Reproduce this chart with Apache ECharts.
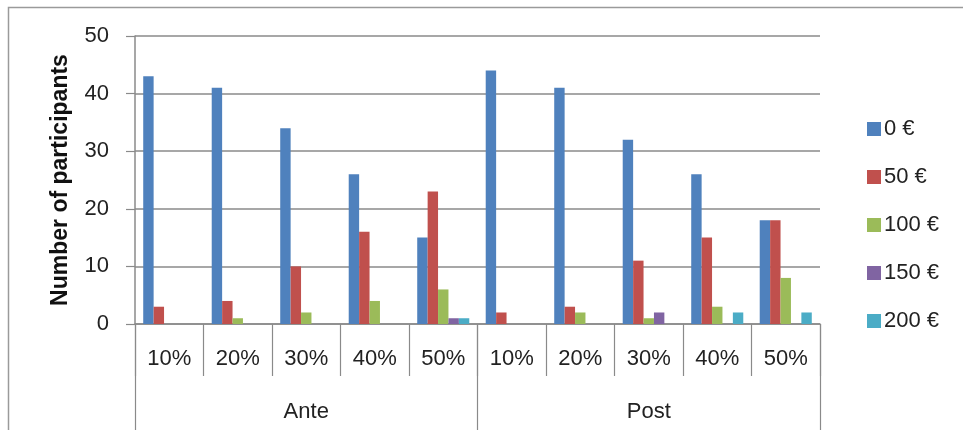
<!DOCTYPE html>
<html>
<head>
<meta charset="utf-8">
<script src="https://cdn.jsdelivr.net/npm/echarts@6/dist/echarts.min.js"></script>
<style>
  html, body { margin: 0; padding: 0; background: #fff; }
  #chart { width: 963px; height: 430px; }
</style>
</head>
<body>
<div id="chart"></div>
<script>
// Rates (inner axis) and timing groups (outer axis)
const rates = ['10%', '20%', '30%', '40%', '50%', '10%', '20%', '30%', '40%', '50%'];
const groups = ['Ante', 'Post'];
const yTicks = [0, 10, 20, 30, 40, 50];

// Number of participants per amount, Ante 10..50% then Post 10..50%
const amountNames = ['0 €', '50 €', '100 €', '150 €', '200 €'];
const eur0   = [43, 41, 34, 26, 15, 44, 41, 32, 26, 18];
const eur50  = [3, 4, 10, 16, 23, 2, 3, 11, 15, 18];
const eur100 = [0, 1, 2, 4, 6, 0, 2, 1, 3, 8];
const eur150 = [0, 0, 0, 0, 1, 0, 0, 2, 0, 0];
const eur200 = [0, 0, 0, 0, 1, 0, 0, 0, 2, 2];

const colors = ['#4F81BD', '#C0504D', '#9BBB59', '#8064A2', '#4BACC6'];
const seriesValues = [eur0, eur50, eur100, eur150, eur200];

const font = '"Liberation Sans", Arial, sans-serif';
const gray = '#8a8a8a';

const chart = echarts.init(document.getElementById('chart'));
chart.setOption({
  animation: false,
  textStyle: { fontFamily: font },
  grid: { left: 135, right: 143, top: 36, bottom: 106, containLabel: false },
  legend: {
    orient: 'vertical',
    left: 862,
    top: 113,
    itemWidth: 14,
    itemHeight: 14,
    itemGap: 26,
    icon: 'rect',
    textStyle: { fontSize: 22, color: '#222', fontFamily: font, padding: [0, 0, 0, -2] },
    data: amountNames
  },
  graphic: [{
    type: 'rect',
    silent: true,
    shape: { x: 8.5, y: 7.5, width: 1000, height: 500 },
    style: { fill: 'none', stroke: '#9a9a9a', lineWidth: 1.5 }
  }],
  xAxis: [{
    type: 'category',
    data: rates,
    position: 'bottom',
    axisLine: { show: true, lineStyle: { color: gray, width: 1.5 } },
    axisTick: { show: true, length: 52, lineStyle: { color: gray, width: 1.2 } },
    axisLabel: { fontSize: 22, color: '#222', margin: 24, fontFamily: font }
  }, {
    type: 'category',
    data: groups,
    position: 'bottom',
    axisLine: { show: false },
    axisTick: { show: true, length: 110, lineStyle: { color: gray, width: 1.2 } },
    axisLabel: { fontSize: 22, color: '#222', margin: 77, fontFamily: font }
  }],
  yAxis: {
    type: 'value',
    min: yTicks[0],
    max: yTicks[yTicks.length - 1],
    interval: 10,
    name: 'Number of participants',
    nameLocation: 'middle',
    nameGap: 63,
    nameRotate: 90,
    nameTextStyle: { fontSize: 23, fontWeight: 'bold', color: '#111', fontFamily: font },
    axisLine: { show: true, lineStyle: { color: gray, width: 1.5 } },
    axisTick: { show: true, length: 9, lineStyle: { color: gray, width: 1.2 } },
    axisLabel: { fontSize: 22, color: '#222', margin: 26, fontFamily: font },
    splitLine: { show: true, lineStyle: { color: gray, width: 1.5 } }
  },
  series: seriesValues.map((vals, i) => ({
    name: amountNames[i],
    type: 'bar',
    xAxisIndex: 0,
    data: vals,
    barGap: '0%',
    barCategoryGap: '24%',
    itemStyle: { color: colors[i] }
  }))
});
</script>
</body>
</html>
